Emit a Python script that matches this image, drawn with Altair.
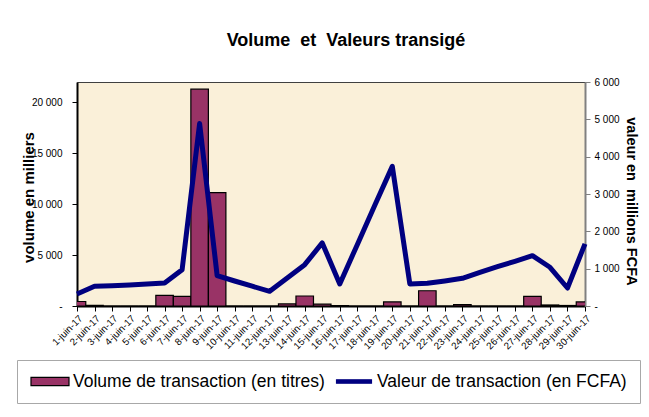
import altair as alt
import pandas as pd

dates = ["1-juin-17", "2-juin-17", "3-juin-17", "4-juin-17", "5-juin-17",
         "6-juin-17", "7-juin-17", "8-juin-17", "9-juin-17", "10-juin-17",
         "11-juin-17", "12-juin-17", "13-juin-17", "14-juin-17", "15-juin-17",
         "16-juin-17", "17-juin-17", "18-juin-17", "19-juin-17", "20-juin-17",
         "21-juin-17", "22-juin-17", "23-juin-17", "24-juin-17", "25-juin-17",
         "26-juin-17", "27-juin-17", "28-juin-17", "29-juin-17", "30-juin-17"]

volume = [440, 60, 0, 0, 0, 1050, 950, 21300, 11140, 0,
          0, 0, 200, 980, 180, 40, 0, 0, 400, 0,
          1500, 0, 130, 0, 0, 0, 950, 100, 50, 400]

valeur = [320, 528, 545, 565, 590, 616, 973, 4890, 813, 670,
          530, 393, 750, 1107, 1690, 590, 1643, 2698, 3740, 590,
          608, 670, 742, 903, 1054, 1197, 1349, 1037, 482, 1665]

serie_volume = "Volume de transaction (en titres)"
serie_valeur = "Valeur de transaction (en FCFA)"

left_ticks = [0, 5000, 10000, 15000, 20000]
right_ticks = [0, 1000, 2000, 3000, 4000, 5000, 6000]

df = pd.DataFrame({"date": dates, "volume": volume, "valeur": valeur,
                   "serie": serie_volume})

W, H = 508, 224
step = W / (len(dates) - 1)
FONT = "Liberation Sans"

rect_path = "M-1,-0.22H1V0.22H-1Z"
line_path = "M-0.92,-0.09H0.92V0.09H-0.92Z"

label_expr = "datum.value == 0 ? '-' : replace(format(datum.value, ','), ',', ' ')"

x = alt.X("date:N", sort=dates,
          scale=alt.Scale(type="point", padding=0),
          axis=alt.Axis(title=None, labelAngle=-45, labelFontSize=9.8, labelFont=FONT,
                        labelColor="black", domainColor="black", domainWidth=2,
                        tickColor="black", tickSize=5, labelPadding=2,
                        labelOverlap=False))

bars = alt.Chart(df).mark_bar(size=step, stroke="black", strokeWidth=1.2, clip=True).encode(
    x=x,
    y=alt.Y("volume:Q",
            scale=alt.Scale(domain=[0, 22000], nice=False),
            axis=alt.Axis(orient="left", values=left_ticks, labelExpr=label_expr,
                          title="volume en milliers", titleFont=FONT, titleFontSize=15,
                          titleFontWeight="bold", titleColor="black",
                          titleX=-44, titleY=115, titleAngle=-90,
                          titleAlign="center", titleBaseline="alphabetic",
                          labelFont=FONT, labelFontSize=10, labelColor="black",
                          labelPadding=10, tickSize=5, tickColor="black",
                          domainColor="black", domainWidth=2, grid=False)),
    fill=alt.Fill("serie:N",
                  scale=alt.Scale(domain=[serie_volume, serie_valeur],
                                  range=["#993366", "#000080"]),
                  legend=alt.Legend(title=None, orient="none", legendX=-60, legendY=278,
                                    direction="horizontal",
                                    labelFont=FONT, labelFontSize=17.5, labelColor="black",
                                    labelLimit=400, labelOffset=3,
                                    symbolSize=1444, clipHeight=17,
                                    symbolType={"expr": f"datum.value == '{serie_volume}' ? '{rect_path}' : '{line_path}'"},
                                    symbolStrokeColor={"expr": f"datum.value == '{serie_volume}' ? 'black' : '#000080'"},
                                    symbolStrokeWidth=1.2, symbolOpacity=1,
                                    columnPadding=9, padding=13,
                                    strokeColor="#A8A8A8", fillColor="white"))
)

line = alt.Chart(df).mark_line(color="#000080", strokeWidth=5, strokeJoin="round").encode(
    x=x,
    y=alt.Y("valeur:Q",
            scale=alt.Scale(domain=[0, 6000], nice=False),
            axis=alt.Axis(orient="right", values=right_ticks, labelExpr=label_expr,
                          title="valeur en\u00a0 millions FCFA", titleFont=FONT,
                          titleFontSize=14.5, titleFontWeight="bold", titleColor="black",
                          titleX=41, titleY=119, titleAngle=90,
                          titleAlign="center", titleBaseline="alphabetic",
                          labelFont=FONT, labelFontSize=10, labelColor="black",
                          labelPadding=4, tickSize=5, tickColor="#808080",
                          domainColor="#808080", domainWidth=2, grid=False))
)

chart = alt.layer(bars, line).resolve_scale(y="independent").properties(
    width=W, height=H,
    title=alt.TitleParams(text="Volume\u00a0 et\u00a0 Valeurs transigé", font=FONT,
                          fontSize=18, fontWeight="bold", color="black",
                          anchor="middle", dx=15, offset=27),
    autosize="none",
    padding={"left": 69, "top": 74, "right": 56, "bottom": 103},
    background="white",
).configure_view(fill="#FAF0D9", stroke="#404040", strokeWidth=1)

chart.save("out.html", embed_options={"renderer": "svg", "actions": False})
